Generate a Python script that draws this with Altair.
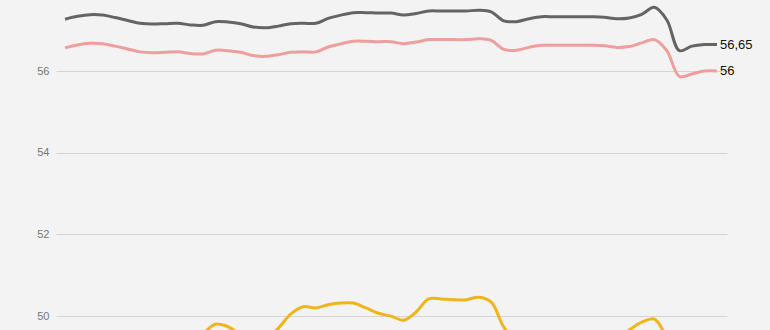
import altair as alt
import pandas as pd

weeks = list(range(53))

gray_vals = [57.27, 57.34, 57.38, 57.37, 57.31, 57.24, 57.17, 57.15, 57.16, 57.17,
             57.13, 57.12, 57.21, 57.20, 57.16, 57.08, 57.06, 57.10, 57.16, 57.17,
             57.17, 57.29, 57.37, 57.43, 57.43, 57.42, 57.42, 57.37, 57.41, 57.47,
             57.47, 57.47, 57.47, 57.49, 57.45, 57.23, 57.21, 57.28, 57.33, 57.33,
             57.33, 57.33, 57.33, 57.32, 57.28, 57.30, 57.39, 57.56, 57.25, 56.50,
             56.61, 56.65, 56.65]

pink_vals = [56.57, 56.64, 56.68, 56.67, 56.61, 56.54, 56.47, 56.45, 56.46, 56.47,
             56.43, 56.42, 56.51, 56.50, 56.46, 56.38, 56.36, 56.40, 56.46, 56.47,
             56.47, 56.59, 56.67, 56.73, 56.73, 56.72, 56.72, 56.67, 56.71, 56.77,
             56.77, 56.77, 56.77, 56.79, 56.75, 56.53, 56.51, 56.58, 56.63, 56.63,
             56.63, 56.63, 56.63, 56.62, 56.58, 56.60, 56.69, 56.77, 56.50, 55.87,
             55.93, 56.00, 56.00]

yellow_vals = [49.35, 49.30, 49.28, 49.30, 49.32, 49.30, 49.28, 49.30, 49.32, 49.35,
               49.42, 49.58, 49.80, 49.74, 49.55, 49.45, 49.45, 49.70, 50.05, 50.23,
               50.20, 50.28, 50.32, 50.32, 50.20, 50.07, 50.00, 49.90, 50.10, 50.42,
               50.42, 50.40, 50.40, 50.46, 50.34, 49.73, 49.40, 49.30, 49.28, 49.28,
               49.30, 49.30, 49.30, 49.32, 49.45, 49.66, 49.85, 49.93, 49.50, 49.20,
               49.15, 49.15, 49.15]

series_names = ["gray", "pink", "yellow"]
series_colors = ["#646464", "#ef9e9e", "#f0b41c"]
end_labels = ["56,65", "56"]
y_ticks = [50, 52, 54, 56]

rows = []
for name, vals in zip(series_names, [gray_vals, pink_vals, yellow_vals]):
    for w, v in zip(weeks, vals):
        rows.append({"week": w, "value": v, "series": name})
df = pd.DataFrame(rows)

lab_df = pd.DataFrame({
    "week": [weeks[-1], weeks[-1]],
    "value": [gray_vals[-1], pink_vals[-1]],
    "label": end_labels,
})

x_enc = alt.X("week:Q", scale=alt.Scale(domain=[-0.72, 52.8], nice=False, zero=False), axis=None)
y_scale = alt.Scale(domain=[49.66, 57.74], nice=False, zero=False)

lines = alt.Chart(df).mark_line(interpolate="catmull-rom", strokeWidth=3, clip=True).encode(
    x=x_enc,
    y=alt.Y("value:Q", scale=y_scale,
            axis=alt.Axis(values=y_ticks, title=None, domain=False, ticks=False,
                          labelPadding=7, labelFontSize=11, labelColor="#777777",
                          labelFont="Liberation Sans", gridColor="#d4d4d4", gridWidth=1)),
    color=alt.Color("series:N", scale=alt.Scale(domain=series_names, range=series_colors), legend=None),
)

labels = alt.Chart(lab_df).mark_text(align="left", baseline="middle", dx=3, fontSize=13,
                                     color="#111111", font="Liberation Sans").encode(
    x=x_enc,
    y=alt.Y("value:Q", scale=y_scale),
    text="label:N",
)

chart = (lines + labels).properties(
    width=671, height=330,
    autosize="none",
    padding={"left": 56, "top": 0, "right": 43, "bottom": 0},
    background="#f3f3f3",
).configure_view(stroke=None)

chart.save("out.html", embed_options={"renderer": "svg", "actions": False})
